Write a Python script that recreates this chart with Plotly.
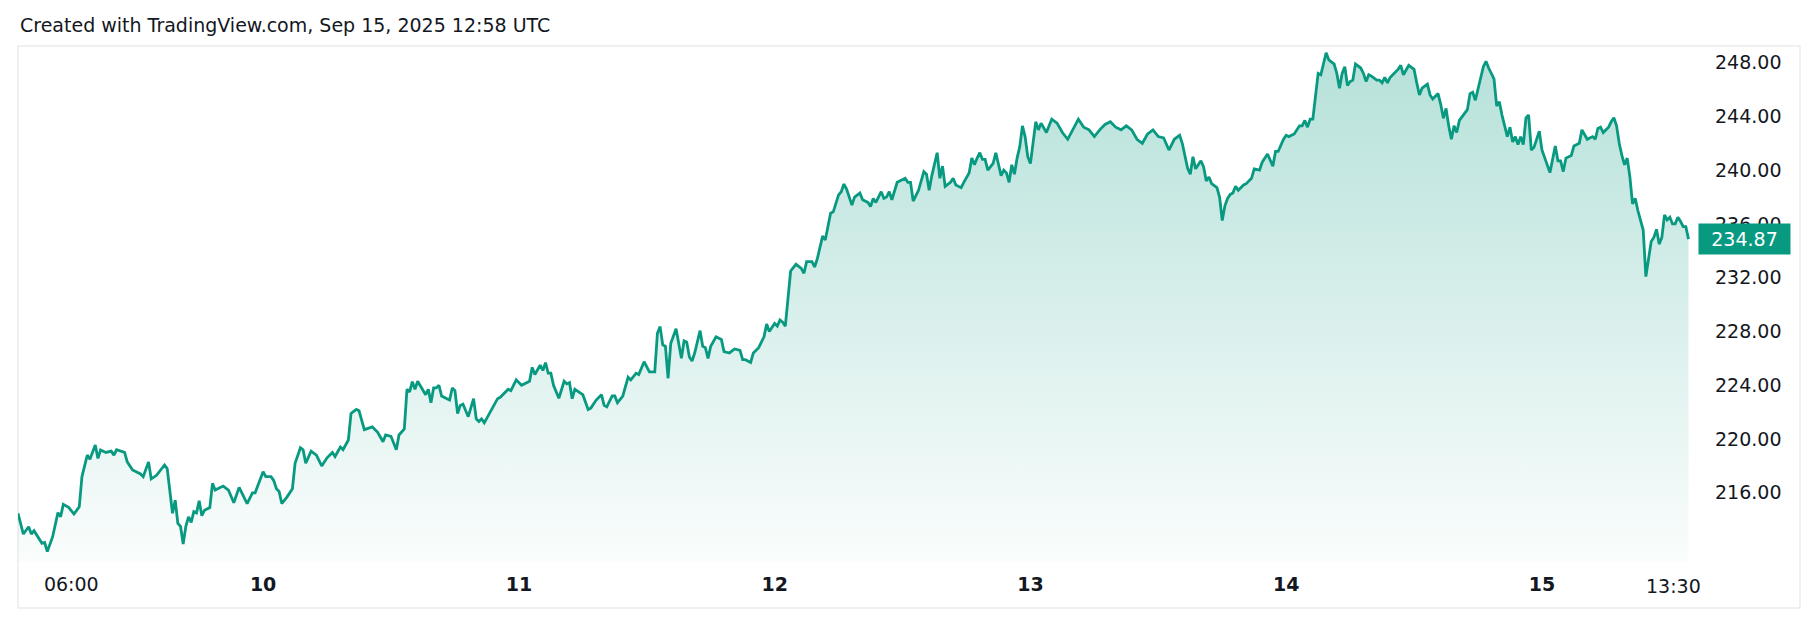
import pandas as pd
import plotly.graph_objects as go

# ---- data (15-min closes, local chart time) ----
sep09_t = ["01:00","01:30","02:00","02:15","02:30","03:15","03:30","03:45","04:15","04:45","05:00","05:15","05:45","06:15","06:45","07:00","07:30","07:45","08:15","08:30","08:45","09:15","09:45","10:00","10:15","11:00","11:15","11:45","12:30","12:45","13:15","13:30","14:00","14:45","15:00","15:30","15:45","16:00","16:15","16:30","16:45","17:00","17:15","17:30","17:45","18:00","18:15","18:30","19:00","19:15","19:30","20:00","20:15","20:45","21:15","21:45","22:15","22:30","23:00","23:15"]
sep09_v = [214.47,212.93,213.47,212.93,213.18,212.24,212.30,211.62,212.73,214.52,214.22,215.14,214.92,214.42,214.96,217.20,218.80,218.50,219.55,218.56,219.18,219.00,219.10,218.80,219.20,219.00,218.30,217.70,217.40,217.20,218.30,217.03,217.30,218.07,217.80,214.47,215.45,213.73,213.50,212.19,213.50,214.20,213.80,214.60,214.50,215.40,214.30,214.70,214.90,216.70,216.20,216.40,216.50,216.20,215.26,216.40,215.60,215.20,216.00,216.00]

sep10_t = ["00:00","00:15","00:45","01:00","01:15","01:30","01:45","02:15","02:45","03:00","03:30","03:45","04:00","04:30","05:00","05:30","06:00","06:30","06:45","07:15","07:30","08:00","08:15","08:45","09:00","09:15","09:30","10:15","10:45","11:15","11:30","12:00","12:30","12:45","13:15","13:30","13:45","14:00","14:15","14:30","14:45","15:15","15:30","15:45","16:00","16:15","16:30","16:45","17:15","17:30","17:45","18:00","18:15","18:30","18:45","19:15","19:45","20:00","20:15","20:30","20:45","21:15","22:00","22:15","23:00","23:15","23:45"]
sep10_v = [217.57,217.20,217.20,216.90,216.30,216.10,215.20,215.70,216.30,218.20,219.35,219.20,218.20,219.10,218.80,218.00,218.60,219.00,218.70,219.40,219.20,219.93,221.90,222.20,222.10,221.30,220.70,220.90,220.50,219.80,220.30,220.20,219.20,220.30,220.75,223.70,223.50,224.27,223.70,224.30,224.00,223.30,223.70,222.70,223.80,223.80,224.00,223.20,223.00,222.90,223.80,223.60,221.90,222.50,222.60,221.66,223.00,221.50,221.30,221.50,221.20,221.90,223.00,223.10,223.70,223.60,224.40]

sep11_t = ["00:15","01:00","01:15","01:30","02:00","02:15","02:30","02:45","03:00","03:15","03:45","04:15","04:30","04:45","05:00","05:15","06:00","06:30","06:45","07:15","07:45","08:00","08:15","08:45","09:00","09:15","09:45","10:15","10:30","11:00","11:15","11:45","12:15","12:45","13:00","13:15","13:30","13:45","14:00","14:15","14:45","15:00","15:15","15:30","15:45","16:00","16:15","16:30","17:00","17:15","17:30","17:45","18:00","18:30","19:00","19:15","19:45","20:15","20:45","21:00","21:15","21:45","22:00","22:30","23:00","23:15","23:30"]
sep11_v = [224.00,224.30,225.33,224.80,225.50,225.10,225.68,224.90,224.90,224.00,223.03,224.30,224.10,224.20,223.00,223.70,223.30,222.20,222.30,222.90,223.30,222.50,222.40,223.20,223.20,222.70,223.20,224.60,224.40,224.90,224.80,225.75,225.00,225.00,227.87,228.36,227.00,226.90,224.52,227.10,228.20,227.00,226.00,227.30,227.20,226.10,225.80,226.40,228.06,226.90,226.80,226.00,226.90,227.60,227.40,226.50,226.40,226.70,226.60,225.90,225.90,225.70,226.40,226.80,227.60,228.56,228.00]

sep12_t = ["00:00","00:15","00:30","00:45","01:00","01:15","01:30","02:00","02:30","02:45","03:00","03:30","03:45","04:00","04:30","04:45","05:15","05:30","06:00","06:15","06:30","06:45","07:15","07:30","08:00","08:15","08:45","09:00","09:15","09:30","10:00","10:15","10:30","10:45","11:00","11:30","12:15","12:30","12:45","13:00","13:30","14:00","14:15","14:30","14:45","15:15","15:30","15:45","16:00","16:30","16:45","17:00","17:30","17:45","18:15","18:30","18:45","19:00","19:15","19:30","19:45","20:00","20:30","20:45","21:15","21:30","21:45","22:00","22:15","22:30","22:45","23:00","23:15","23:30","23:45"]
sep12_v = [228.60,228.40,228.86,228.70,228.40,230.30,232.50,233.00,232.70,232.33,233.20,233.20,232.80,233.40,235.10,234.80,236.80,236.90,238.16,238.40,238.97,238.60,237.40,238.00,238.30,237.80,237.60,237.30,237.90,237.60,238.40,237.90,238.00,238.40,237.80,239.10,239.40,239.10,239.10,237.70,238.50,239.89,239.70,238.50,239.60,241.30,239.40,240.30,238.80,239.10,239.40,238.90,238.70,239.10,239.80,240.90,240.40,240.90,241.30,240.80,240.80,240.00,240.50,241.30,239.60,240.00,239.80,239.10,240.40,239.70,240.90,241.75,243.30,242.50,241.00]

sep13_t = ["00:00","00:15","00:30","00:45","01:00","01:30","02:00","02:30","03:00","03:30","04:00","04:30","05:00","05:30","06:00","06:30","07:00","07:30","08:00","08:30","09:00","09:30","10:00","10:30","11:00","11:30","12:00","12:30","13:00","13:30","14:00","14:15","14:45","15:00","15:15","15:30","16:00","16:15","16:30","16:45","17:00","17:30","17:45","18:00","18:15","18:30","18:45","19:00","19:15","19:30","20:00","20:15","20:45","21:00","21:30","21:45","22:15","22:45","23:00","23:15","23:45"]
sep13_v = [240.50,242.00,243.60,243.00,243.50,242.80,243.80,243.50,242.80,242.30,243.00,243.80,243.20,243.00,242.50,243.00,243.40,243.60,243.20,243.00,243.30,243.00,242.30,242.00,242.70,243.00,242.50,242.40,241.50,242.30,242.60,242.00,240.14,239.70,241.00,240.10,240.70,240.25,239.20,239.50,239.00,238.70,238.00,236.25,237.35,237.90,238.20,238.30,238.80,238.50,238.90,239.00,239.40,240.10,240.00,240.60,241.20,240.30,241.40,241.40,242.30]

sep14_t = ["00:00","00:15","00:45","01:15","01:30","01:45","02:00","02:15","02:30","03:00","03:15","03:45","04:00","04:30","04:45","05:00","05:15","05:30","05:45","06:00","06:15","06:30","07:00","07:15","07:30","07:45","08:00","08:30","08:45","09:00","09:15","09:30","09:45","10:00","10:30","10:45","11:00","11:30","12:00","12:15","12:30","12:45","13:15","13:30","13:45","14:15","14:30","14:45","15:00","15:15","15:30","15:45","16:00","16:15","16:30","17:00","17:15","17:30","17:45","18:00","18:30","18:45","19:00","19:30","19:45","20:00","20:15","20:45","21:00","21:15","21:30","21:45","22:00","22:15","22:30","22:45","23:00","23:15","23:45"]
sep14_v = [242.60,242.50,242.70,243.30,243.30,243.70,243.20,243.80,243.80,247.20,247.10,248.74,248.20,247.90,247.20,246.10,247.20,247.70,246.30,246.60,246.70,247.90,247.60,247.20,246.60,247.10,247.00,246.70,246.70,246.50,246.90,246.50,246.90,247.10,247.50,247.80,247.10,247.80,247.50,246.50,245.60,246.10,246.40,245.60,245.30,245.70,244.90,243.86,244.60,243.30,242.30,243.30,242.80,243.70,244.00,244.50,245.70,245.80,245.20,246.00,247.70,248.10,247.60,246.80,244.78,245.10,244.10,242.50,243.20,242.10,242.50,241.90,242.50,241.90,243.90,244.10,241.50,241.70,242.90]

sep15_t = ["00:00","00:15","00:45","01:15","01:30","01:45","02:00","02:15","02:45","03:00","03:30","03:45","04:15","04:45","05:00","05:15","05:30","05:45","06:15","06:30","06:45","07:00","07:15","07:30","07:45","08:00","08:15","08:30","08:45","09:00","09:30","09:45","10:00","10:15","10:30","10:45","11:00","11:15","11:30","11:45","12:00","12:15","12:30","12:45","13:00","13:15","13:30","13:45"]
sep15_v = [241.50,240.90,239.82,241.80,240.70,240.70,239.90,240.90,241.10,241.80,242.00,243.00,242.30,242.50,242.30,243.10,243.20,242.80,243.20,243.60,243.90,243.30,242.00,241.10,240.40,240.90,239.50,237.49,237.90,237.00,235.55,232.08,233.30,234.70,235.00,235.60,234.50,235.00,236.67,236.30,236.50,236.00,236.00,236.50,236.20,235.80,235.80,234.87]

days = [("2025-09-09", sep09_t, sep09_v), ("2025-09-10", sep10_t, sep10_v),
        ("2025-09-11", sep11_t, sep11_v), ("2025-09-12", sep12_t, sep12_v),
        ("2025-09-13", sep13_t, sep13_v), ("2025-09-14", sep14_t, sep14_v),
        ("2025-09-15", sep15_t, sep15_v)]

x_tick_vals = ["2025-09-09 06:00", "2025-09-10", "2025-09-11", "2025-09-12",
               "2025-09-13", "2025-09-14", "2025-09-15"]
x_tick_text = ["06:00", "<b>10</b>", "<b>11</b>", "<b>12</b>", "<b>13</b>", "<b>14</b>", "<b>15</b>"]
last_tick_time = "2025-09-15 13:30"
last_tick_text = "13:30"
y_ticks = [216, 220, 224, 228, 232, 236, 240, 244, 248]
last_price = 234.87
title_text = "Created with TradingView.com, Sep 15, 2025 12:58 UTC"

# ---- build ----
xs, ys = [], []
for d, ts, vs in days:
    xs += list(pd.to_datetime([f"{d} {t}" for t in ts]))
    ys += vs

GREEN = "#089981"
TXT = "#131722"
FONT = "DejaVu Sans"
FS = 19
Y_MIN, Y_MAX = 210.85, 249.24

fig = go.Figure()
fig.add_trace(go.Scatter(
    x=xs, y=ys, mode="lines",
    line=dict(color=GREEN, width=2.8),
    fill="tozeroy",
    fillgradient=dict(type="vertical", start=Y_MIN, stop=Y_MAX,
                      colorscale=[[0, "rgba(8,153,129,0.02)"], [1, "rgba(8,153,129,0.30)"]]),
    hoverinfo="skip",
))

W, H = 1818, 620
L, R, T, B = 18, 124, 46, 58
pw, ph = W - L - R, H - T - B

fig.update_layout(
    width=W, height=H, autosize=False,
    margin=dict(l=L, r=R, t=T, b=B, pad=0),
    paper_bgcolor="white", plot_bgcolor="white",
    showlegend=False,
    font=dict(family=FONT, size=FS, color=TXT),
    xaxis=dict(type="date", range=["2025-09-09 01:00", "2025-09-15 14:16"],
               tickvals=x_tick_vals, ticktext=x_tick_text,
               showgrid=False, zeroline=False, showline=False, ticks="",
               tickfont=dict(family=FONT, size=FS, color=TXT),
               ticklabelstandoff=9),
    yaxis=dict(side="right", range=[Y_MIN, Y_MAX],
               tickvals=y_ticks, ticktext=[f"{v:.2f}" for v in y_ticks],
               showgrid=False, zeroline=False, showline=False, ticks="",
               tickfont=dict(family=FONT, size=FS, color=TXT),
               ticklabelstandoff=20),
)

# frame around chart + price scale + time scale
fig.add_shape(type="rect", xref="paper", yref="paper",
              x0=0, x1=(1800 - L) / pw, y0=(T + ph - 608) / ph, y1=1,
              line=dict(color="#ebebeb", width=1.5), fillcolor="rgba(0,0,0,0)", layer="below")

fig.add_annotation(text=title_text, xref="paper", yref="paper",
                   x=0, y=(T + ph - 25) / ph, xanchor="left", yanchor="middle",
                   showarrow=False, font=dict(family=FONT, size=FS, color=TXT))

fig.add_annotation(text=last_tick_text, xref="x", yref="paper",
                   x=last_tick_time, y=(T + ph - 586) / ph, xshift=-12.5,
                   xanchor="center", yanchor="middle", showarrow=False,
                   font=dict(family=FONT, size=FS, color=TXT))

fig.add_annotation(text=str(last_price), xref="paper", yref="y",
                   x=(1697.7 - L) / pw, y=last_price, xanchor="left", yanchor="middle",
                   showarrow=False, bgcolor=GREEN, borderpad=3, width=85, height=24,
                   align="center", font=dict(family=FONT, size=FS, color="white"))

fig.write_html("out.html")
